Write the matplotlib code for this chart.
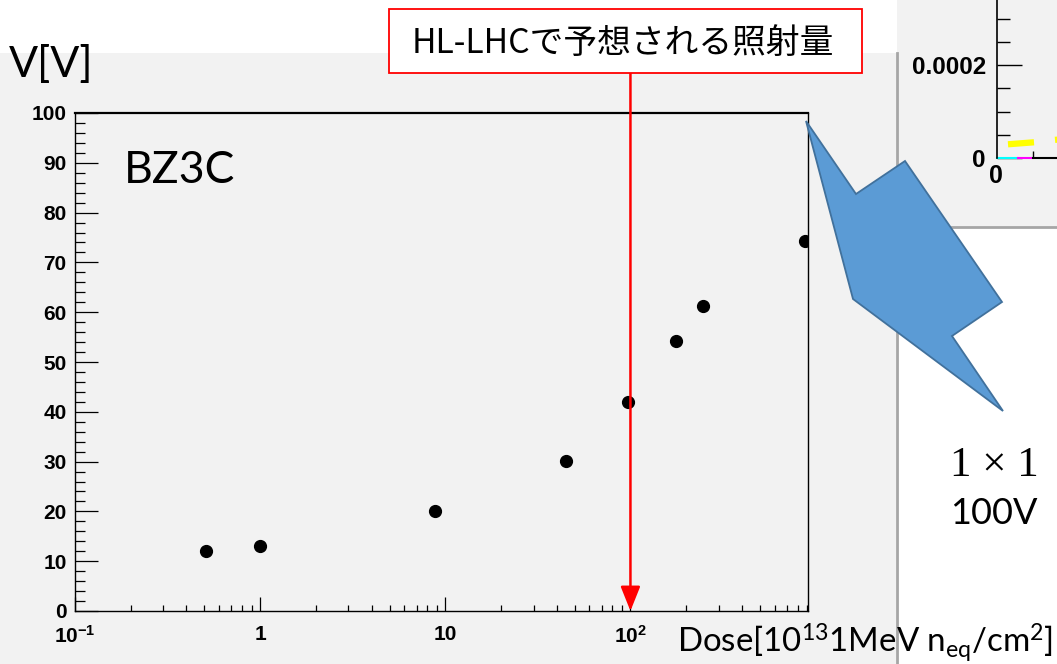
import numpy as np
import matplotlib.pyplot as plt
from matplotlib.patches import Rectangle, Polygon
from matplotlib.ticker import FixedLocator, FixedFormatter, MultipleLocator, LogLocator, NullFormatter

# Data
dose = [0.51, 1.0, 8.8, 45, 97, 176, 248, 880]
volt = [12.1, 13.1, 20.1, 30.2, 42.0, 54.3, 61.2, 74.2]
hl_lhc_dose = 100

dose_ticks = [0.1, 1, 10, 100]
dose_ticklabels = [r'$\mathbf{10^{-1}}$', '1', '10', r'$\mathbf{10^{2}}$']

# the partly visible second plot in the top right corner
inset_dash_x = [[11, 37], [58, 80]]
inset_dash_y = [[2.95e-5, 3.38e-5], [3.9e-5, 4.3e-5]]
inset_base_x = [[0, 21], [21, 36], [36, 100]]
inset_base_c = ['cyan', 'magenta', 'black']

plt.rcParams['font.family'] = ['Lato', 'Noto Sans CJK JP', 'DejaVu Sans']
plt.rcParams['mathtext.fontset'] = 'custom'
plt.rcParams['mathtext.rm'] = 'Lato'
plt.rcParams['mathtext.it'] = 'Lato:italic'
plt.rcParams['mathtext.bf'] = 'Liberation Sans:bold'

W, H = 1057, 664
def fx(x):
    return x / W
def fy(y):
    return 1 - y / H

fig = plt.figure(figsize=(W / 100, H / 100), dpi=100)
fig.patch.set_facecolor('white')

# grey panels
fig.patches.append(Rectangle((0, 0), fx(896), fy(53), transform=fig.transFigure,
                             facecolor='#f2f2f2', edgecolor='none', zorder=-10))
fig.patches.append(Rectangle((fx(897), fy(227)), 1 - fx(897), 1 - fy(227), transform=fig.transFigure,
                             facecolor='#f2f2f2', edgecolor='none', zorder=-10))
fig.add_artist(plt.Line2D([fx(897), fx(897)], [0, fy(53)], color='#a6a6a6', lw=2, zorder=-5))
fig.add_artist(plt.Line2D([fx(897), 1], [fy(227), fy(227)], color='#a6a6a6', lw=2, zorder=-5))

# main plot
ax = fig.add_axes([fx(75), fy(611), fx(808) - fx(75), fy(113) - fy(611)])
ax.set_facecolor('#f2f2f2')
ax.plot(dose, volt, 'o', color='black', ms=8.5, zorder=3)
ax.set_xscale('log')
ax.set_xlim(0.1, 910)
ax.set_ylim(0, 100)

ax.xaxis.set_major_locator(FixedLocator(dose_ticks))
ax.xaxis.set_major_formatter(FixedFormatter(dose_ticklabels))
ax.xaxis.set_minor_locator(LogLocator(base=10, subs=np.arange(2, 10)))
ax.xaxis.set_minor_formatter(NullFormatter())
ax.yaxis.set_major_locator(MultipleLocator(10))
ax.yaxis.set_minor_locator(MultipleLocator(2))

ax.tick_params(labelsize=15, labelfontfamily='Liberation Sans')
ax.tick_params(axis='x', which='major', direction='in', length=10, width=0.9, pad=10)
ax.tick_params(axis='x', which='minor', direction='in', length=4.5, width=0.9)
ax.tick_params(axis='y', which='major', direction='in', length=16.5, width=0.9, pad=6)
ax.tick_params(axis='y', which='minor', direction='in', length=7.5, width=0.9)
for s in ['left', 'right', 'bottom']:
    ax.spines[s].set_linewidth(1.0)
ax.spines['top'].set_linewidth(1.6)

# HL-LHC arrow
ax.annotate('', xy=(hl_lhc_dose, 0), xytext=(hl_lhc_dose, 108.2), annotation_clip=False,
            arrowprops=dict(arrowstyle='-|>,head_width=0.3,head_length=0.75', color='red',
                            lw=1.8, shrinkA=0, shrinkB=0, mutation_scale=20), zorder=4)

fig.patches.append(Rectangle((fx(389), fy(73)), fx(862) - fx(389), fy(9) - fy(73),
                             transform=fig.transFigure, facecolor='white', edgecolor='red',
                             lw=1.3, zorder=6))
fig.text(fx(623), fy(44), 'HL-LHCで予想される照射量', ha='center', va='center', fontsize=24.3,
         family=['Noto Sans CJK JP', 'DejaVu Sans'], zorder=7)

# labels
fig.text(fx(9), fy(77), 'V[V]', fontsize=31, va='baseline', ha='left')
fig.text(fx(124), fy(183), 'BZ3C', fontsize=32, va='baseline', ha='left')
fig.text(fx(677), fy(653), 'Dose[10$^{13}$1MeV n$_{\\mathrm{eq}}$/cm$^{2}$]', fontsize=23.8,
         va='baseline', ha='left')

# callout arrow
poly_px = [(806, 121), (856, 194), (905, 161), (1002, 302), (952, 336), (1003, 411), (853, 299)]
fig.patches.append(Polygon([(fx(x), fy(y)) for x, y in poly_px], closed=True,
                           transform=fig.transFigure, facecolor='#5b9bd5', edgecolor='#41719c',
                           lw=1.3, zorder=8))

# right hand text (cut off by the slide edge in the original)
fig.text(fx(950), fy(476), '1 × 1', fontsize=31, family='Liberation Serif', va='baseline')
fig.text(fx(950), fy(524), '100V', fontsize=26, va='baseline')

# partly visible inset plot
ax2 = fig.add_axes([fx(997), fy(158), 100 / W, fy(0) - fy(158)])
ax2.patch.set_visible(False)
ax2.set_xlim(0, 100)
ax2.set_ylim(0, 0.0002 * 158 / 93)
for s in ['top', 'right', 'bottom']:
    ax2.spines[s].set_visible(False)
ax2.spines['left'].set_linewidth(1.2)
ax2.set_yticks([0, 0.0002])
ax2.set_yticklabels(['0', '0.0002'])
ax2.yaxis.set_minor_locator(MultipleLocator(0.00005))
ax2.set_xticks([])
ax2.xaxis.set_minor_locator(FixedLocator([36]))
ax2.tick_params(labelsize=17.5, labelfontfamily='Liberation Sans')
ax2.tick_params(axis='y', which='major', direction='in', length=18, width=1, pad=8)
ax2.tick_params(axis='y', which='minor', direction='in', length=9, width=1)
ax2.tick_params(axis='x', which='minor', direction='in', length=5, width=1)
for xs, c in zip(inset_base_x, inset_base_c):
    ax2.plot(xs, [0, 0], color=c, lw=1.5, clip_on=False)
for xs, ys in zip(inset_dash_x, inset_dash_y):
    ax2.plot(xs, ys, color='yellow', lw=4.5, solid_capstyle='butt', clip_on=False)
fig.text(fx(996), fy(176), '0', fontsize=18, family='Liberation Sans', weight='bold',
         ha='center', va='center')

# ROOT style bold tick labels (set after the ticks exist)
fig.canvas.draw()
for a in [ax, ax2]:
    for lab in a.get_xticklabels() + a.get_yticklabels():
        lab.set_fontweight('bold')

fig.savefig('out.png', dpi=100)
